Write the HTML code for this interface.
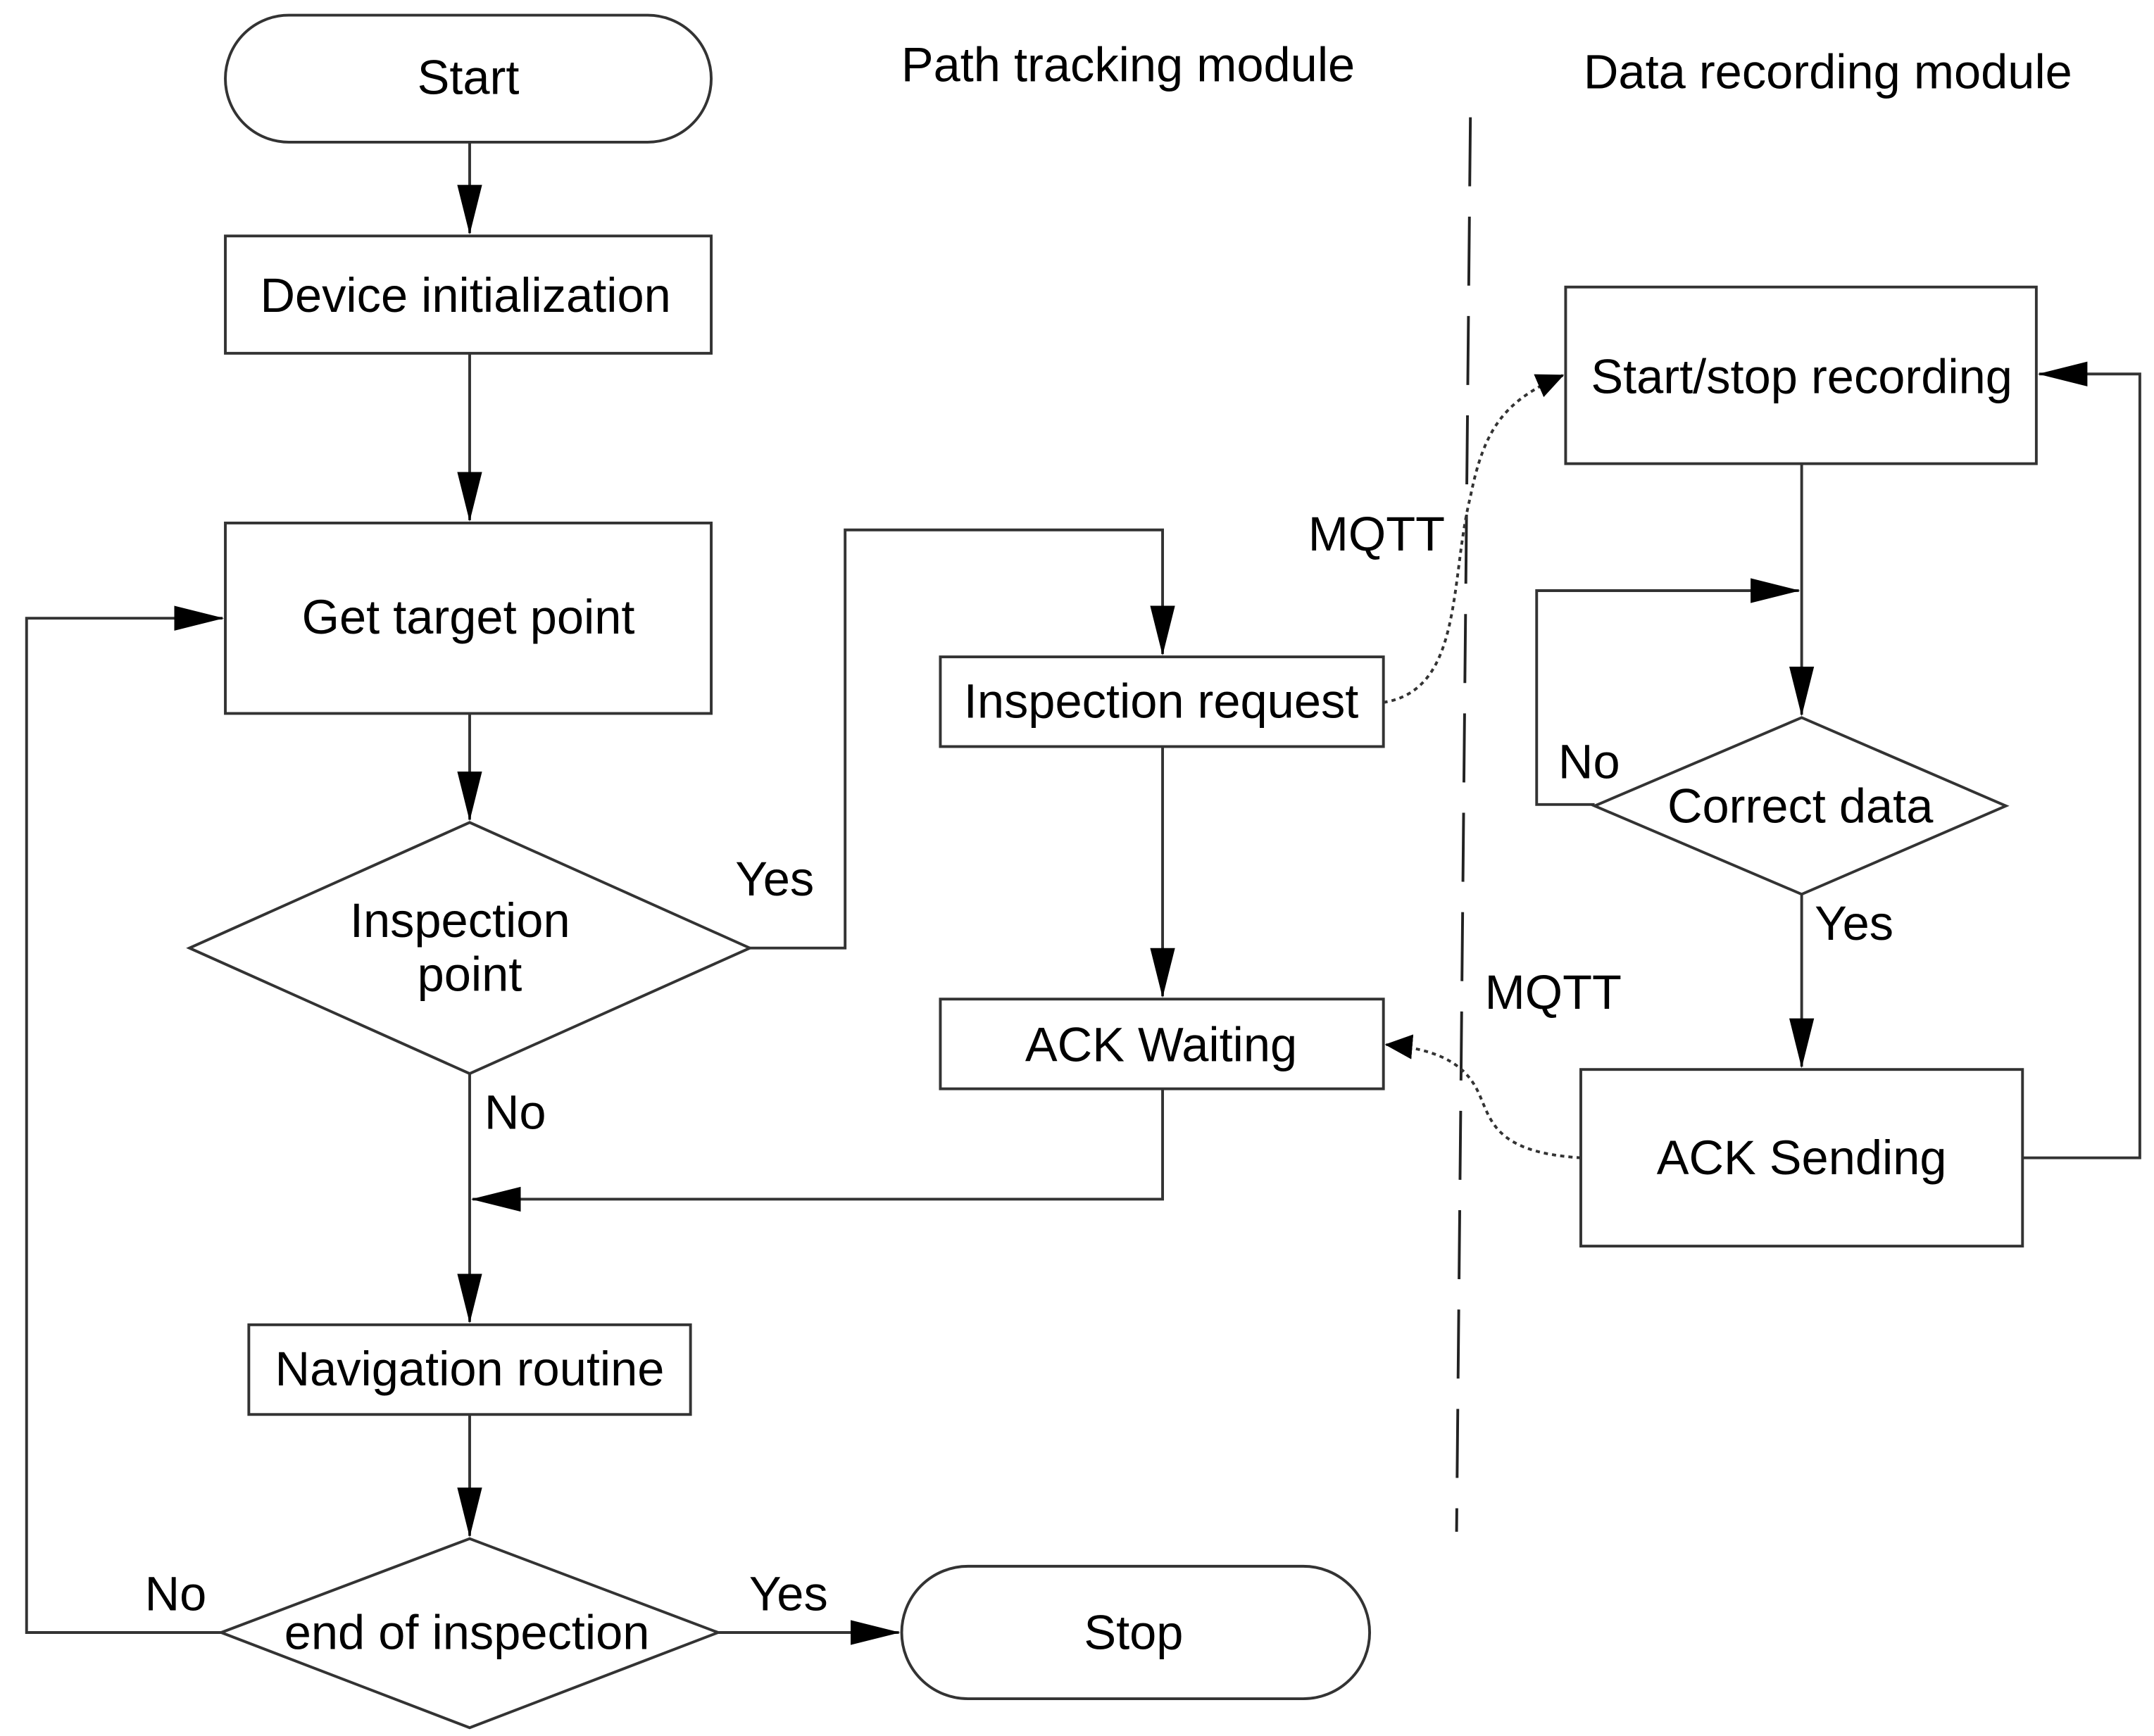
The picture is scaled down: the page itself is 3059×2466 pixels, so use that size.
<!DOCTYPE html>
<html><head><style>html,body{margin:0;padding:0;background:#fff;}svg{display:block}</style></head>
<body>
<svg width="3059" height="2466" viewBox="0 0 1560 1258" xmlns="http://www.w3.org/2000/svg" font-family="Liberation Sans, sans-serif" font-size="35">
<defs>
<marker id="a" markerWidth="20" markerHeight="20" refX="19" refY="10" orient="auto" markerUnits="userSpaceOnUse"><path d="M0,1 L20,10 L0,19 Z" fill="#000"/></marker>
<marker id="b" markerWidth="36" markerHeight="20" refX="35" refY="10" orient="auto" markerUnits="userSpaceOnUse"><path d="M0,1 L36,10 L0,19 Z" fill="#000"/></marker>
</defs>
<g fill="none" stroke="#333" stroke-width="2">
<rect x="163" y="11" width="352" height="92" rx="46"/>
<rect x="163" y="171" width="352" height="85"/>
<rect x="163" y="379" width="352" height="138"/>
<polygon points="137,687 340,596 543,687 340,778"/>
<rect x="681" y="476" width="321" height="65"/>
<rect x="681" y="724" width="321" height="65"/>
<rect x="180" y="960" width="320" height="65"/>
<polygon points="160,1183 340,1115 520,1183 340,1252"/>
<rect x="653" y="1135" width="339" height="96" rx="48"/>
<rect x="1134" y="208" width="341" height="128"/>
<polygon points="1155,584 1305,520 1453,584 1305,648"/>
<rect x="1145" y="775" width="320" height="128"/>
</g>
<g fill="none" stroke="#333" stroke-width="2">
<path d="M340,103 V169" marker-end="url(#b)"/>
<path d="M340,256 V377" marker-end="url(#b)"/>
<path d="M340,517 V594" marker-end="url(#b)"/>
<path d="M543,687 H612 V384 H842 V474" marker-end="url(#b)"/>
<path d="M842,541 V722" marker-end="url(#b)"/>
<path d="M842,789 V869 H342" marker-end="url(#b)"/>
<path d="M340,778 V958" marker-end="url(#b)"/>
<path d="M340,1025 V1113" marker-end="url(#b)"/>
<path d="M520,1183 H651" marker-end="url(#b)"/>
<path d="M160,1183 H19 V448 H161" marker-end="url(#b)"/>
<path d="M1305,336 V518" marker-end="url(#b)"/>
<path d="M1155,583 H1113 V428 H1303" marker-end="url(#b)"/>
<path d="M1305,648 V773" marker-end="url(#b)"/>
<path d="M1465,839 H1550 V271 H1477" marker-end="url(#b)"/>
<path d="M1065,85 L1055,1110" stroke="#222" stroke-dasharray="50,22"/>
<path d="M1002,509 C1060,500 1050,420 1065,360 C1075,310 1090,290 1132,272" stroke-dasharray="3,3" marker-end="url(#a)"/>
<path d="M1145,839 C1080,835 1080,810 1070,790 C1060,770 1040,760 1004,757" stroke-dasharray="3,3" marker-end="url(#a)"/>
</g>
<g fill="#000" text-anchor="middle">
<text x="339" y="68">Start</text>
<text x="337" y="226">Device initialization</text>
<text x="339" y="459">Get target point</text>
<text x="333" y="679">Inspection</text>
<text x="340" y="718">point</text>
<text x="561" y="649">Yes</text>
<text x="373" y="818">No</text>
<text x="841" y="520">Inspection request</text>
<text x="841" y="769">ACK Waiting</text>
<text x="340" y="1004">Navigation routine</text>
<text x="338" y="1195">end of inspection</text>
<text x="571" y="1167">Yes</text>
<text x="127" y="1167">No</text>
<text x="821" y="1195">Stop</text>
<text x="817" y="59">Path tracking module</text>
<text x="1324" y="64">Data recording module</text>
<text x="1305" y="285">Start/stop recording</text>
<text x="1304" y="596">Correct data</text>
<text x="1151" y="564">No</text>
<text x="1343" y="681">Yes</text>
<text x="1305" y="851">ACK Sending</text>
<text x="997" y="399">MQTT</text>
<text x="1125" y="731">MQTT</text>
</g>
</svg>
</body></html>
